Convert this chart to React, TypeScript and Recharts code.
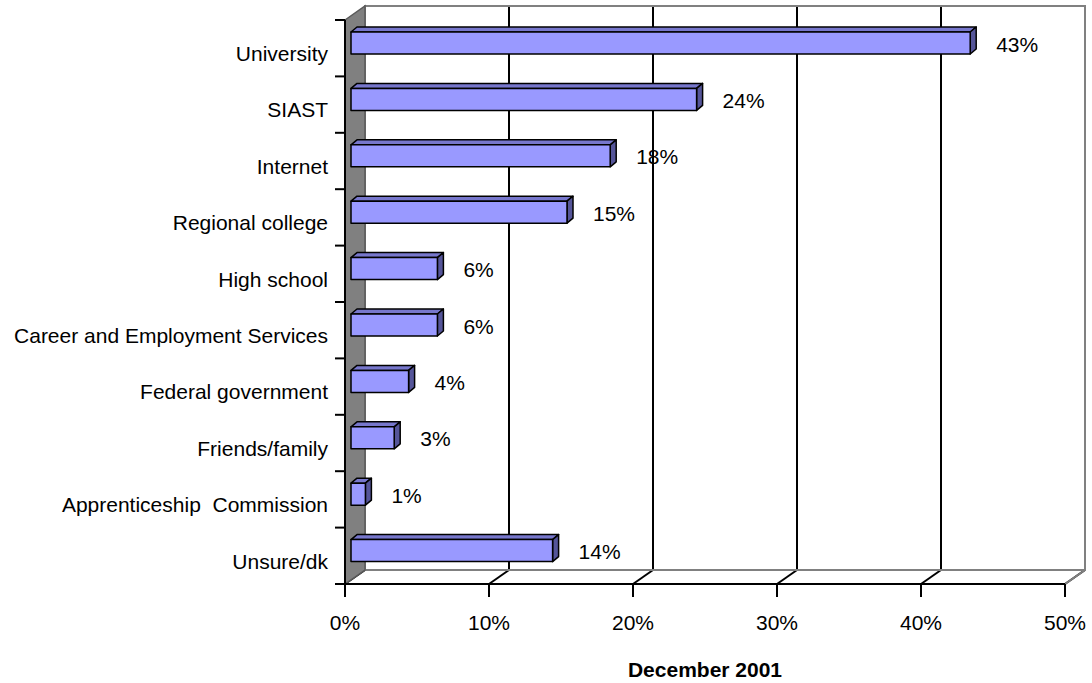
import React from 'react';
import { BarChart, Bar, XAxis, YAxis, CartesianGrid, ReferenceArea, LabelList, Label } from 'recharts';

const categories = [
  'University',
  'SIAST',
  'Internet',
  'Regional college',
  'High school',
  'Career and Employment Services',
  'Federal government',
  'Friends/family',
  'Apprenticeship  Commission',
  'Unsure/dk',
];
const shares = [43, 24, 18, 15, 6, 6, 4, 3, 1, 14];
const percentTicks = [0, 10, 20, 30, 40, 50];
const axisTitle = 'December 2001';

const rows = categories.map((name, i) => ({ name, value: shares[i] }));

// depth of the 3d floor / walls, and of each bar
const DX = 20;
const DY = 14;
const BX = 6;
const BY = 5;

const font = '"Liberation Sans", Arial, sans-serif';

function Bar3D(props: any) {
  const { x, y, width, height } = props;
  const fx = x + BX;
  const fy = y - BY;
  const tx = fx + BX;
  const ty = fy - BY;
  return (
    <g stroke="#000" strokeWidth={1.5} strokeLinejoin="round">
      <polygon points={`${fx},${fy} ${tx},${ty} ${tx + width},${ty} ${fx + width},${fy}`} fill="#7777CC" />
      <polygon
        points={`${fx + width},${fy} ${tx + width},${ty} ${tx + width},${ty + height} ${fx + width},${fy + height}`}
        fill="#555599"
      />
      <rect x={fx} y={fy} width={width} height={height} fill="#9999FF" />
    </g>
  );
}

function ShareLabel(props: any) {
  const { x, y, width, height, value } = props;
  return (
    <text x={x + BX + width + 26} y={y - BY + height / 2 + 8.5} fontSize={21} fontFamily={font} fill="#000">
      {value}%
    </text>
  );
}

function CategoryTick(props: any) {
  const { x, y, payload, index } = props;
  const half = payload.offset ?? 28.2;
  const axisX = x + 17;
  return (
    <g>
      <line x1={axisX - 10} x2={axisX} y1={y - half} y2={y - half} stroke="#000" strokeWidth={2} />
      {index === categories.length - 1 && (
        <line x1={axisX - 10} x2={axisX} y1={y + half} y2={y + half} stroke="#000" strokeWidth={2} />
      )}
      <text
        x={x}
        y={y + 12.8}
        textAnchor="end"
        fontSize={21}
        fontFamily={font}
        fill="#000"
        xmlSpace="preserve"
        style={{ whiteSpace: 'pre' }}
      >
        {payload.value}
      </text>
    </g>
  );
}

function PercentTick(props: any) {
  const { x, y, payload } = props;
  return (
    <text x={x} y={y + 32.5} textAnchor="middle" fontSize={21} fontFamily={font} fill="#000">
      {payload.value}%
    </text>
  );
}

function DepthGridLine(props: any) {
  const { x1, y1, y2, index } = props;
  return (
    <g key={`grid-${index}`}>
      <line x1={x1 + DX} y1={y1 - DY} x2={x1 + DX} y2={y2 - DY} stroke="#000" strokeWidth={2} />
      <line x1={x1} y1={y2} x2={x1 + DX} y2={y2 - DY} stroke="#000" strokeWidth={2} />
    </g>
  );
}

function Walls(props: any) {
  const { x, y, width, height } = props;
  const bottom = y + height;
  return (
    <g>
      <rect x={x + DX} y={y - DY} width={width} height={height} fill="none" stroke="#808080" strokeWidth={2} />
      <polygon
        points={`${x},${y} ${x + DX},${y - DY} ${x + DX},${bottom - DY} ${x},${bottom}`}
        fill="#808080"
        stroke="#5a5a5a"
        strokeWidth={1.5}
      />
      <line x1={x + width} y1={bottom} x2={x + width + DX} y2={bottom - DY} stroke="#808080" strokeWidth={2} />
    </g>
  );
}

function AxisTitle(props: any) {
  const vb = props.viewBox;
  return (
    <text
      x={vb.x + vb.width / 2}
      y={vb.y + vb.height + 32.7}
      textAnchor="middle"
      fontSize={21}
      fontWeight="bold"
      fontFamily={font}
      fill="#000"
    >
      {axisTitle}
    </text>
  );
}

export default function App() {
  return (
    <div style={{ position: 'absolute', left: 0, top: 0, width: 1092, height: 683, background: '#fff' }}>
      <BarChart
        layout="vertical"
        width={1092}
        height={683}
        data={rows}
        margin={{ top: 20, right: 27, bottom: 39, left: 0 }}
      >
        <CartesianGrid horizontal={false} vertical={DepthGridLine} />
        <ReferenceArea x1={0} x2={50} shape={Walls} />
        <XAxis
          type="number"
          domain={[0, 50]}
          ticks={percentTicks}
          interval={0}
          height={60}
          tickSize={13}
          tickMargin={0}
          axisLine={{ stroke: '#000', strokeWidth: 2 }}
          tickLine={{ stroke: '#000', strokeWidth: 2 }}
          tick={PercentTick}
        >
          <Label content={AxisTitle} />
        </XAxis>
        <YAxis
          type="category"
          dataKey="name"
          width={345}
          interval={0}
          tickSize={0}
          tickMargin={17}
          tickLine={false}
          axisLine={{ stroke: '#000', strokeWidth: 2 }}
          tick={CategoryTick}
        />
        <Bar dataKey="value" barSize={22} isAnimationActive={false} shape={Bar3D}>
          <LabelList dataKey="value" content={ShareLabel} />
        </Bar>
      </BarChart>
    </div>
  );
}
